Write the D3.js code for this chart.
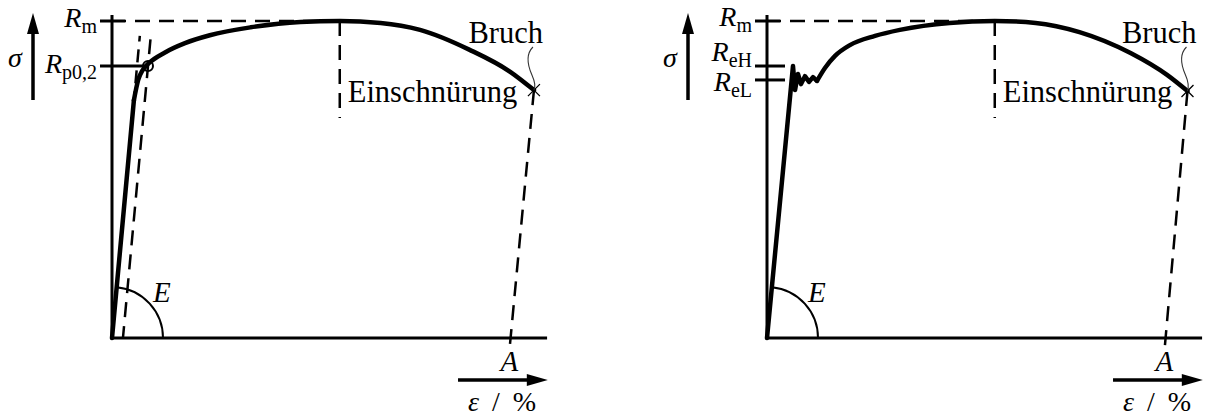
<!DOCTYPE html>
<html>
<head>
<meta charset="utf-8">
<script src="https://cdn.jsdelivr.net/npm/d3@7"></script>
<style>
  body { margin: 0; background: #fff; }
</style>
</head>
<body>
<div id="plot"></div>
<script>
// strain in %, stress in % of Rm (schematic values)
const strainProof = [0, 1.5, 1.8, 2.1, 2.6, 3.6, 5.0, 6.7, 9.5, 12.9, 15.6, 18.4, 21.1, 24.5, 27.3, 28.9];
const stressProof = [0, 75, 81.5, 84.5, 87, 90, 93, 95.5, 98, 99.7, 100, 99.4, 97.2, 90.9, 83.9, 78.2];

const strainYield = [0, 1.78, 1.92, 2.12, 2.33, 2.6, 2.88, 3.15, 3.42, 3.97, 4.66, 5.68, 7.4, 9.1, 12.5, 15.6, 18.4, 21.4, 24.9, 27.4, 28.8];
const stressYield = [0, 85.8, 78.2, 83.3, 80.1, 82.6, 80.8, 82.3, 81.1, 85.2, 89, 92.4, 95.3, 97.2, 99.4, 100, 99.4, 96.5, 89.9, 83, 77.9];

const proofTicks = [100, 85.8];
const proofSubs = ["m", "p0,2"];
const yieldTicks = [100, 85.8, 81.4];
const yieldSubs = ["m", "eH", "eL"];

const strainAtRm = 15.6;      // Einschnürung
const elongationA = 27.3;     // A
const offsetStrain = 0.75;    // 0,2 % offset (exaggerated)
const neckStress = 69.4;      // lower end of the Rm dashed line

const W = 1207, H = 416;
const FONT = "'Liberation Serif'";
const svg = d3.select('#plot').append('svg').attr('width', W).attr('height', H);
const y = d3.scaleLinear().domain([0, 100]).range([338, 21]);

function label(g, x, yy, size, italic) {
  return g.append('text').attr('x', x).attr('y', yy)
    .style('font-family', FONT).style('font-size', size + 'px')
    .style('font-style', italic ? 'italic' : 'normal').attr('fill', '#000');
}

function arrowHead(g, tx, ty, dir) {
  // dir: 'up' or 'right'
  let pts = dir === 'up'
    ? [[tx, ty], [tx - 6, ty + 21], [tx + 6, ty + 21]]
    : [[tx, ty], [tx - 21, ty - 6], [tx - 21, ty + 6]];
  g.append('path').attr('d', 'M' + pts.join('L') + 'Z').attr('fill', '#000');
}

function drawPanel(x0, strain, stress, ticks, subs, kink, labelDy, proof) {
  const x = d3.scaleLinear().domain([0, 30]).range([x0, x0 + 438]);
  const g = svg.append('g');
  const ox = x(0), oy = y(0);
  const n = strain.length - 1;
  const bx = x(strain[n]), by = y(stress[n]);
  const dash = '15,9';

  // axes
  g.append('line').attr('x1', ox).attr('x2', ox).attr('y1', oy).attr('y2', y(101.9))
    .attr('stroke', '#000').attr('stroke-width', 3);
  g.append('line').attr('x1', ox - 1).attr('x2', x(29.8)).attr('y1', oy).attr('y2', oy)
    .attr('stroke', '#000').attr('stroke-width', 3);

  // sigma arrow
  g.append('line').attr('x1', ox - 79).attr('x2', ox - 79).attr('y1', 100).attr('y2', 30)
    .attr('stroke', '#000').attr('stroke-width', 3.5);
  arrowHead(g, ox - 79, 13, 'up');
  label(g, ox - 104, 67, 28, true).text('σ');

  // epsilon arrow
  const ea = x(23.7), eb = x(29.85);
  g.append('line').attr('x1', ea).attr('x2', eb - 15).attr('y1', 380).attr('y2', 380)
    .attr('stroke', '#000').attr('stroke-width', 3.5);
  arrowHead(g, eb, 380, 'right');
  const et = label(g, ea + 10, 411, 28, false);
  et.append('tspan').style('font-style', 'italic').text('ε');
  et.append('tspan').attr('dx', 13).text('/');
  et.append('tspan').attr('dx', 13).text('%');

  // dashed helpers
  g.append('line').attr('x1', ox + 13).attr('x2', x(strainAtRm)).attr('y1', y(100)).attr('y2', y(100))
    .attr('stroke', '#000').attr('stroke-width', 2.5).attr('stroke-dasharray', dash).attr('stroke-dashoffset', -10);
  g.append('line').attr('x1', x(strainAtRm)).attr('x2', x(strainAtRm)).attr('y1', y(100)).attr('y2', y(neckStress))
    .attr('stroke', '#000').attr('stroke-width', 2.5).attr('stroke-dasharray', dash);
  const t = 1 + 12 / (oy - by);
  g.append('line').attr('x1', bx).attr('y1', by)
    .attr('x2', bx + (x(elongationA) - bx) * t).attr('y2', by + (oy - by) * t)
    .attr('stroke', '#000').attr('stroke-width', 2.5).attr('stroke-dasharray', dash);

  // ticks and labels
  ticks.forEach((v, i) => {
    let x2 = i === 0 ? ox + 13 : ox + 18;
    if (proof && i === 1) x2 = x(offsetStrain + strain[1] / stress[1] * v) - 5;
    g.append('line').attr('x1', ox - 12).attr('x2', x2).attr('y1', y(v)).attr('y2', y(v))
      .attr('stroke', '#000').attr('stroke-width', 3);
    const tx = label(g, ox - 15, y(v) + labelDy[i], 28, false).attr('text-anchor', 'end');
    tx.append('tspan').style('font-style', 'italic').text('R');
    tx.append('tspan').style('font-size', '20px').attr('dy', 6).text(subs[i]);
  });

  if (proof) {
    const k = strain[1] / stress[1];
    const top = 95.3;
    g.append('line').attr('x1', x(strain[1])).attr('y1', y(stress[1]))
      .attr('x2', x(k * top)).attr('y2', y(top))
      .attr('stroke', '#000').attr('stroke-width', 2.5).attr('stroke-dasharray', '13,8').attr('stroke-dashoffset', 4);
    g.append('line').attr('x1', x(offsetStrain)).attr('y1', oy)
      .attr('x2', x(offsetStrain + k * top)).attr('y2', y(top))
      .attr('stroke', '#000').attr('stroke-width', 2.5).attr('stroke-dasharray', dash).attr('stroke-dashoffset', 3);
    g.append('circle').attr('cx', x(offsetStrain + k * ticks[1])).attr('cy', y(ticks[1])).attr('r', 5)
      .attr('fill', 'none').attr('stroke', '#000').attr('stroke-width', 2);
  }

  // E arc
  const th = Math.atan2(oy - y(stress[1]), x(strain[1]) - ox);
  const p = d3.path();
  p.moveTo(ox + 51, oy);
  p.arc(ox, oy, 51, 0, -th, true);
  g.append('path').attr('d', p.toString()).attr('fill', 'none').attr('stroke', '#000').attr('stroke-width', 2);
  label(g, ox + 41, oy - 36, 29, true).text('E');
  label(g, x(elongationA) - 10, 371, 29, true).text('A');

  // curve
  const pts = strain.map((s, i) => [x(s), y(stress[i])]);
  g.append('path').attr('d', d3.line()(pts.slice(0, kink + 1)))
    .attr('fill', 'none').attr('stroke', '#000').attr('stroke-width', 4.5)
    .attr('stroke-linejoin', 'round').attr('stroke-linecap', 'round');
  g.append('path').attr('d', d3.line().curve(d3.curveMonotoneX)(pts.slice(kink)))
    .attr('fill', 'none').attr('stroke', '#000').attr('stroke-width', 4.5)
    .attr('stroke-linecap', 'round');

  // break marker and leader
  g.append('path').attr('d', `M${bx - 6},${by - 6}L${bx + 6},${by + 6}M${bx - 6},${by + 6}L${bx + 6},${by - 6}`)
    .attr('stroke', '#000').attr('stroke-width', 1.3);
  g.append('path')
    .attr('d', `M${bx - 1},${47}C${bx - 9},${55} ${bx - 6},${66} ${bx - 2},${75}S${bx + 1},${88} ${bx},${by}`)
    .attr('fill', 'none').attr('stroke', '#333').attr('stroke-width', 1.1);

  label(g, bx + 9, 43, 30.5, false).attr('text-anchor', 'end').text('Bruch');
  label(g, x(strainAtRm) + 8, 102, 30.5, false).text('Einschnürung');
}

drawPanel(112, strainProof, stressProof, proofTicks, proofSubs, 1, [6, 7], true);
drawPanel(767, strainYield, stressYield, yieldTicks, yieldSubs, 8, [5, -5, 11], false);
</script>
</body>
</html>
